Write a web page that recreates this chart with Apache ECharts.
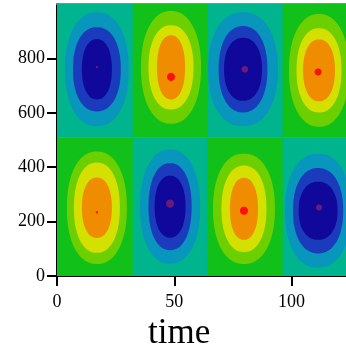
<!DOCTYPE html>
<html><head><meta charset="utf-8">
<script src="https://cdn.jsdelivr.net/npm/echarts@6/dist/echarts.min.js"></script>
<style>html,body{margin:0;padding:0;background:#fff}#c{width:346px;height:353px}</style>
</head><body><div id="c"></div>
<script>
// axis ticks
const xTicks = [0, 50, 100];
const yTicks = [0, 200, 400, 600, 800];
// sign bands of the field (zero-contour boundaries)
const bandTime = [0, 32.3, 64.2, 96.2, 123.2];
const bandDepth = [0, 510, 1000];
const bandSignTop = [-1, 1, -1, 1];
const bandSignBottom = [1, -1, 1, -1];
// extrema (blobs): centre, sign, contour extents
const blobTime  = [17.0, 48.6, 79.3, 111.7, 17.0, 48.2, 79.7, 111.3];
const blobDepth = [760, 767, 760, 756, 251, 255, 247, 240];
const blobSign  = [-1, 1, -1, 1, 1, -1, 1, -1];
const ringWidth = [
  [13.6, 10.2, 6.4], [12.8, 9.6, 6.0], [14.9, 10.4, 8.1], [12.8, 9.6, 6.8],
  [12.8, 9.8, 6.4], [12.8, 9.2, 6.6], [13.2, 9.6, 6.0], [14.1, 10.7, 8.3]
];
const ringHeight = [
  [210, 155, 111], [207, 155, 118], [210, 159, 116], [207, 155, 114],
  [207, 166, 111], [210, 160, 114], [203, 159, 114], [210, 157, 107]
];
const coreTime  = [17.0, 48.6, 80.1, 111.3, 17.0, 48.2, 79.7, 111.7];
const coreDepth = [768, 732, 760, 750, 234, 266, 240, 252];
const coreWidth = [0.5, 1.7, 1.4, 1.5, 0.5, 1.7, 1.7, 1.3];
const coreHeight = [4.4, 15, 12, 13, 4.4, 15, 15, 11];

const posColors = ['#12c01a', '#6ccf00', '#d4e000', '#f08c00', '#ff1010'];
const negColors = ['#00b48e', '#0896bc', '#1a3cbc', '#10089a', '#6a1a78'];

const bandData = [];
for (let i = 0; i < bandSignTop.length; i++) {
  bandData.push([bandTime[i], bandTime[i + 1], bandDepth[1], bandDepth[2], bandSignTop[i]]);
  bandData.push([bandTime[i], bandTime[i + 1], bandDepth[0], bandDepth[1], bandSignBottom[i]]);
}
const blobData = blobTime.map((t, i) => [t, blobDepth[i], blobSign[i],
  ringWidth[i][0], ringWidth[i][1], ringWidth[i][2],
  ringHeight[i][0], ringHeight[i][1], ringHeight[i][2],
  coreTime[i], coreDepth[i], coreWidth[i], coreHeight[i]]);

function superEllipse(cx, cy, a, b, n) {
  const pts = [];
  const N = 90;
  for (let k = 0; k < N; k++) {
    const th = 2 * Math.PI * k / N;
    const c = Math.cos(th), s = Math.sin(th);
    pts.push([cx + a * Math.sign(c) * Math.pow(Math.abs(c), 2 / n),
              cy + b * Math.sign(s) * Math.pow(Math.abs(s), 2 / n)]);
  }
  return pts;
}

const chart = echarts.init(document.getElementById('c'), null, {renderer: 'canvas'});
const labelFont = {fontFamily: 'Liberation Serif', fontSize: 18, color: '#000'};
chart.setOption({
  animation: false,
  title: {text: 'time', left: 143, top: 311,
    textStyle: {fontFamily: 'Liberation Serif', fontSize: 35, fontWeight: 'normal', color: '#000'}},
  grid: {left: 57, right: 0, top: 4, bottom: 77, containLabel: false},
  xAxis: [{
    type: 'value', min: 0, max: 123.2, interval: 50,
    axisLine: {show: true, onZero: false, lineStyle: {color: '#000', width: 2}},
    axisTick: {show: true, length: 10, lineStyle: {color: '#000', width: 2}, customValues: xTicks},
    axisLabel: Object.assign({margin: 17, customValues: xTicks}, labelFont),
    splitLine: {show: false}
  }, {
    type: 'value', position: 'top', min: 0, max: 123.2,
    axisLine: {show: true, onZero: false, lineStyle: {color: '#8a8a8a', width: 2}},
    axisTick: {show: false}, axisLabel: {show: false}, splitLine: {show: false}
  }],
  yAxis: {
    type: 'value', min: 0, max: 1000, interval: 200,
    axisLine: {show: true, onZero: false, lineStyle: {color: '#000', width: 2}},
    axisTick: {show: true, length: 10, lineStyle: {color: '#000', width: 2}, customValues: yTicks},
    axisLabel: Object.assign({margin: 12, customValues: yTicks}, labelFont),
    splitLine: {show: false}
  },
  series: [{
    type: 'custom', xAxisIndex: 0, clip: true, z: 1,
    data: bandData,
    renderItem: function (params, api) {
      const p0 = api.coord([api.value(0), api.value(3)]);
      const p1 = api.coord([api.value(1), api.value(2)]);
      const col = api.value(4) > 0 ? posColors[0] : negColors[0];
      return {type: 'rect', shape: {x: p0[0], y: p0[1], width: p1[0] - p0[0] + 0.5, height: p1[1] - p0[1] + 0.5},
        style: {fill: col}};
    }
  }, {
    type: 'custom', xAxisIndex: 0, clip: true, z: 2,
    data: blobData,
    renderItem: function (params, api) {
      const c = api.coord([api.value(0), api.value(1)]);
      const cols = api.value(2) > 0 ? posColors : negColors;
      const children = [];
      for (let k = 0; k < 3; k++) {
        const sz = api.size([api.value(3 + k), api.value(6 + k)]);
        children.push({type: 'polygon', shape: {points: superEllipse(c[0], c[1], sz[0], sz[1], 2.2)},
          style: {fill: cols[k + 1]}});
      }
      const cc = api.coord([api.value(9), api.value(10)]);
      const cs = api.size([api.value(11), api.value(12)]);
      children.push({type: 'polygon', shape: {points: superEllipse(cc[0], cc[1], cs[0], cs[1], 2)},
        style: {fill: cols[4]}});
      return {type: 'group', children: children};
    }
  }]
});
</script></body></html>
